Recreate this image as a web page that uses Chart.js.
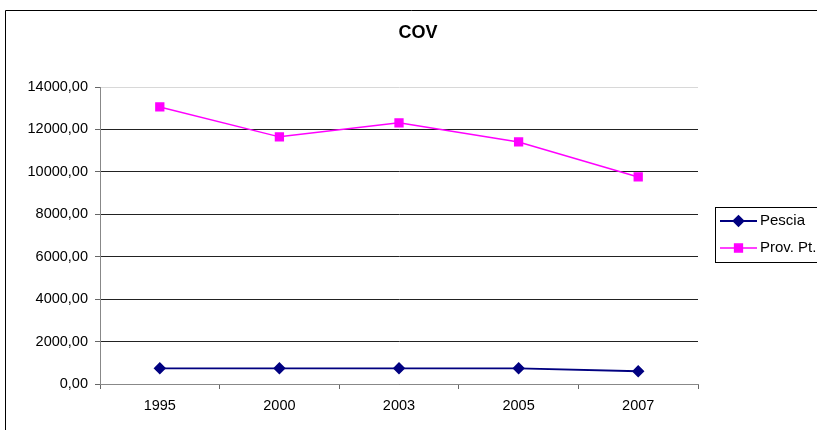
<!DOCTYPE html>
<html>
<head>
<meta charset="utf-8">
<script src="https://cdn.jsdelivr.net/npm/chart.js@4"></script>
<style>
  html, body { margin: 0; padding: 0; background: #fff; }
  #wrap { width: 817px; height: 430px; }
</style>
</head>
<body>
<div id="wrap"><canvas id="chart" width="817" height="430"></canvas></div>
<script>
const years = ['1995', '2000', '2003', '2005', '2007'];
const pescia = [740, 740, 740, 740, 600];
const provPt = [13060, 11650, 12310, 11410, 9760];
const seriesNames = ['Pescia', 'Prov. Pt.'];
const chartTitle = 'COV';

const FONT = '"Liberation Sans", Arial, sans-serif';

// frame, title and a boxed legend like the spreadsheet original
const decor = {
    id: 'decor',
    afterDraw(chart) {
        const ctx = chart.ctx;
        ctx.save();
        ctx.strokeStyle = '#000';
        ctx.lineWidth = 1;
        ctx.beginPath();
        ctx.moveTo(5.5, 430);
        ctx.lineTo(5.5, 10.5);
        ctx.lineTo(817, 10.5);
        ctx.stroke();

        ctx.fillStyle = '#000';
        ctx.font = 'bold 18px ' + FONT;
        ctx.textAlign = 'center';
        ctx.textBaseline = 'middle';
        ctx.fillText(chartTitle, 418, 33);

        // legend box
        ctx.strokeRect(715.5, 207.5, 110, 55);
        ctx.font = '15px ' + FONT;
        ctx.textAlign = 'left';
        chart.data.datasets.forEach((ds, i) => {
            const y = 221 + i * 27;
            ctx.strokeStyle = ds.borderColor;
            ctx.fillStyle = ds.borderColor;
            ctx.lineWidth = ds.borderWidth;
            ctx.beginPath();
            ctx.moveTo(720, y);
            ctx.lineTo(757, y);
            ctx.stroke();
            Chart.helpers.drawPoint(ctx, {
                pointStyle: ds.pointStyle,
                radius: ds.pointRadius,
                borderWidth: 1
            }, 738.5, y);
            ctx.fillStyle = '#000';
            ctx.fillText(ds.label, 760, y);
        });
        ctx.restore();
    }
};

new Chart(document.getElementById('chart'), {
    type: 'line',
    data: {
        labels: years,
        datasets: [{
            label: seriesNames[0],
            data: pescia,
            borderColor: '#000080',
            backgroundColor: '#000080',
            pointBackgroundColor: '#000080',
            pointBorderColor: '#000080',
            borderWidth: 1.8,
            pointStyle: 'rectRot',
            pointRadius: 5,
            tension: 0
        }, {
            label: seriesNames[1],
            data: provPt,
            borderColor: '#FF00FF',
            backgroundColor: '#FF00FF',
            pointBackgroundColor: '#FF00FF',
            pointBorderColor: '#FF00FF',
            borderWidth: 1.5,
            pointStyle: 'rect',
            pointRadius: 5.5,
            tension: 0
        }]
    },
    options: {
        responsive: false,
        animation: false,
        layout: { padding: { top: 87, right: 119, bottom: 0, left: 0 } },
        plugins: {
            legend: { display: false },
            title: { display: false },
            tooltip: { enabled: false }
        },
        scales: {
            x: {
                offset: true,
                afterFit: (s) => { s.height = 46; },
                grid: {
                    offset: true,
                    drawOnChartArea: false,
                    drawTicks: true,
                    tickLength: 5,
                    color: '#666'
                },
                border: { color: '#888', width: 1 },
                ticks: {
                    color: '#000',
                    font: { family: FONT, size: 14.5 },
                    padding: 8,
                    maxRotation: 0
                }
            },
            y: {
                min: 0,
                max: 14000,
                afterFit: (s) => { s.width = 100; },
                grid: {
                    color: (c) => c.tick && c.tick.value === 14000 ? '#d8d8d8' : '#222',
                    tickColor: '#666',
                    tickLength: 5,
                    drawTicks: true
                },
                border: { color: '#888', width: 1 },
                ticks: {
                    stepSize: 2000,
                    color: '#000',
                    padding: 7,
                    font: { family: FONT, size: 14.5 },
                    callback: (v) => v.toFixed(2).replace('.', ',')
                }
            }
        }
    },
    plugins: [decor]
});
</script>
</body>
</html>
